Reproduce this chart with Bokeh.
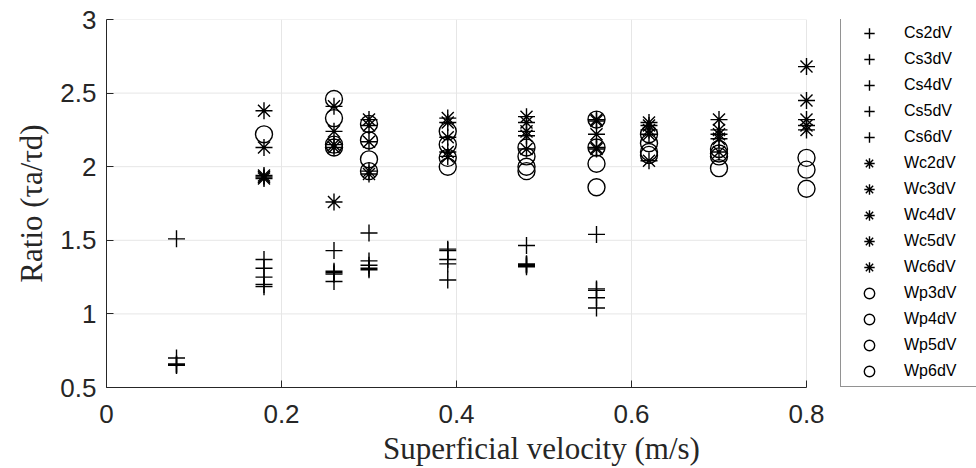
import math
from bokeh.plotting import figure
from bokeh.models import Legend, LegendItem, Range1d, FixedTicker, ColumnDataSource
from bokeh.embed import file_html
from bokeh.resources import INLINE

nan = float("nan")

velocity = [0.08, 0.18, 0.26, 0.30, 0.39, 0.48, 0.56, 0.62, 0.70, 0.80]

Cs2dV = [1.51, 1.37, 1.43, 1.55, 1.44, 1.465, 1.54, nan, nan, nan]
Cs3dV = [0.70, 1.31, 1.29, 1.36, 1.43, 1.34, 1.17, nan, nan, nan]
Cs4dV = [0.66, 1.25, 1.28, 1.33, 1.37, 1.335, 1.16, nan, nan, nan]
Cs5dV = [0.655, 1.20, 1.27, 1.31, 1.34, 1.33, 1.11, nan, nan, nan]
Cs6dV = [0.65, 1.185, 1.22, 1.30, 1.23, 1.32, 1.04, nan, nan, nan]

Wc2dV = [nan, 2.38, 2.41, 2.32, 2.33, 2.34, 2.32, 2.30, 2.32, 2.68]
Wc3dV = [nan, 2.13, 2.24, 2.28, 2.30, 2.30, 2.31, 2.28, 2.25, 2.45]
Wc4dV = [nan, 1.94, 2.15, 2.17, 2.20, 2.24, 2.22, 2.25, 2.22, 2.32]
Wc5dV = [nan, 1.93, 2.13, 1.97, 2.10, 2.21, 2.13, 2.22, 2.19, 2.28]
Wc6dV = [nan, 1.92, 1.76, 1.95, 2.07, 2.12, 2.12, 2.04, 2.10, 2.25]

Wp3dV = [nan, 2.22, 2.46, 2.29, 2.24, 2.13, 2.32, 2.22, 2.12, 2.06]
Wp4dV = [nan, nan, 2.33, 2.18, 2.15, 2.07, 2.13, 2.16, 2.09, 1.98]
Wp5dV = [nan, nan, 2.15, 2.05, 2.06, 2.00, 2.02, 2.10, 2.07, 1.85]
Wp6dV = [nan, nan, 2.13, 1.97, 2.00, 1.97, 1.86, 2.08, 1.99, nan]

series = [
    ("Cs2dV", Cs2dV, "cross"), ("Cs3dV", Cs3dV, "cross"), ("Cs4dV", Cs4dV, "cross"),
    ("Cs5dV", Cs5dV, "cross"), ("Cs6dV", Cs6dV, "cross"),
    ("Wc2dV", Wc2dV, "asterisk"), ("Wc3dV", Wc3dV, "asterisk"), ("Wc4dV", Wc4dV, "asterisk"),
    ("Wc5dV", Wc5dV, "asterisk"), ("Wc6dV", Wc6dV, "asterisk"),
    ("Wp3dV", Wp3dV, "circle"), ("Wp4dV", Wp4dV, "circle"),
    ("Wp5dV", Wp5dV, "circle"), ("Wp6dV", Wp6dV, "circle"),
]

x_ticks = [0, 0.2, 0.4, 0.6, 0.8]
y_ticks = [0.5, 1, 1.5, 2, 2.5, 3]

AX = "#262626"
GRID = "#e6e6e6"

# The frame reaches the right edge of the page (so markers at 0.8 and the
# legend are not clipped); the drawn axis and grid stop at 0.8.
W, H = 976, 468
LEFT, TOP, BOTTOM = 106, 19, 77
axis_px = 700
x_end = x_ticks[-1] * (W - LEFT) / axis_px

p = figure(width=W, height=H, output_backend="svg", toolbar_location=None,
           x_range=Range1d(0, x_end), y_range=Range1d(0.5, 3),
           min_border_left=LEFT, min_border_right=0, min_border_top=TOP, min_border_bottom=BOTTOM)
p.outline_line_color = None
p.background_fill_color = "white"
p.border_fill_color = "white"

for ax in (p.xaxis[0], p.yaxis[0]):
    ax.axis_line_color = AX
    ax.major_tick_line_color = AX
    ax.minor_tick_line_color = None
    ax.major_tick_in = 7
    ax.major_tick_out = 0
    ax.major_label_text_font = "Liberation Sans"
    ax.major_label_text_font_size = "26px"
    ax.major_label_text_color = AX
    ax.axis_label_text_font = "Liberation Serif"
    ax.axis_label_text_font_size = "31px"
    ax.axis_label_text_font_style = "normal"
    ax.axis_label_text_color = AX

p.xaxis.bounds = (x_ticks[0], x_ticks[-1])
p.xaxis.ticker = FixedTicker(ticks=x_ticks)
p.yaxis.ticker = FixedTicker(ticks=y_ticks)
p.xaxis.major_label_overrides = {0: "0", 0.2: "0.2", 0.4: "0.4", 0.6: "0.6", 0.8: "0.8"}
p.yaxis.major_label_overrides = {0.5: "0.5", 1: "1", 1.5: "1.5", 2: "2", 2.5: "2.5", 3: "3"}
p.xaxis.axis_label = "Superficial velocity (m/s)"
p.yaxis.axis_label = "Ratio (τa/τd)"
p.xaxis.major_label_standoff = 17
p.yaxis.major_label_standoff = 10
p.xaxis.axis_label_standoff = 5
p.yaxis.axis_label_standoff = 8

p.xgrid.grid_line_color = GRID
p.ygrid.visible = False
n = len(y_ticks)
p.segment(x0=[x_ticks[0]] * n, x1=[x_ticks[-1]] * n, y0=y_ticks, y1=y_ticks,
          line_color=GRID, line_width=1, level="underlay")

items = []
for name, vals, marker in series:
    src = ColumnDataSource(dict(x=velocity, y=vals))
    r = p.scatter("x", "y", source=src, marker=marker, size=17,
                  line_color="black", fill_color=None, line_width=1.4)
    items.append(LegendItem(label=name, renderers=[r]))

legend = Legend(items=items, location=(734, 0),
                glyph_width=52, glyph_height=26, label_height=20, spacing=0,
                padding=2, label_standoff=9, label_width=70,
                label_text_font="Liberation Sans", label_text_font_size="16px",
                label_text_color="black",
                border_line_color=AX, border_line_width=1,
                background_fill_color="white", background_fill_alpha=1.0,
                margin=0)
p.add_layout(legend, "center")

open("out.html", "w").write(file_html(p, INLINE))
